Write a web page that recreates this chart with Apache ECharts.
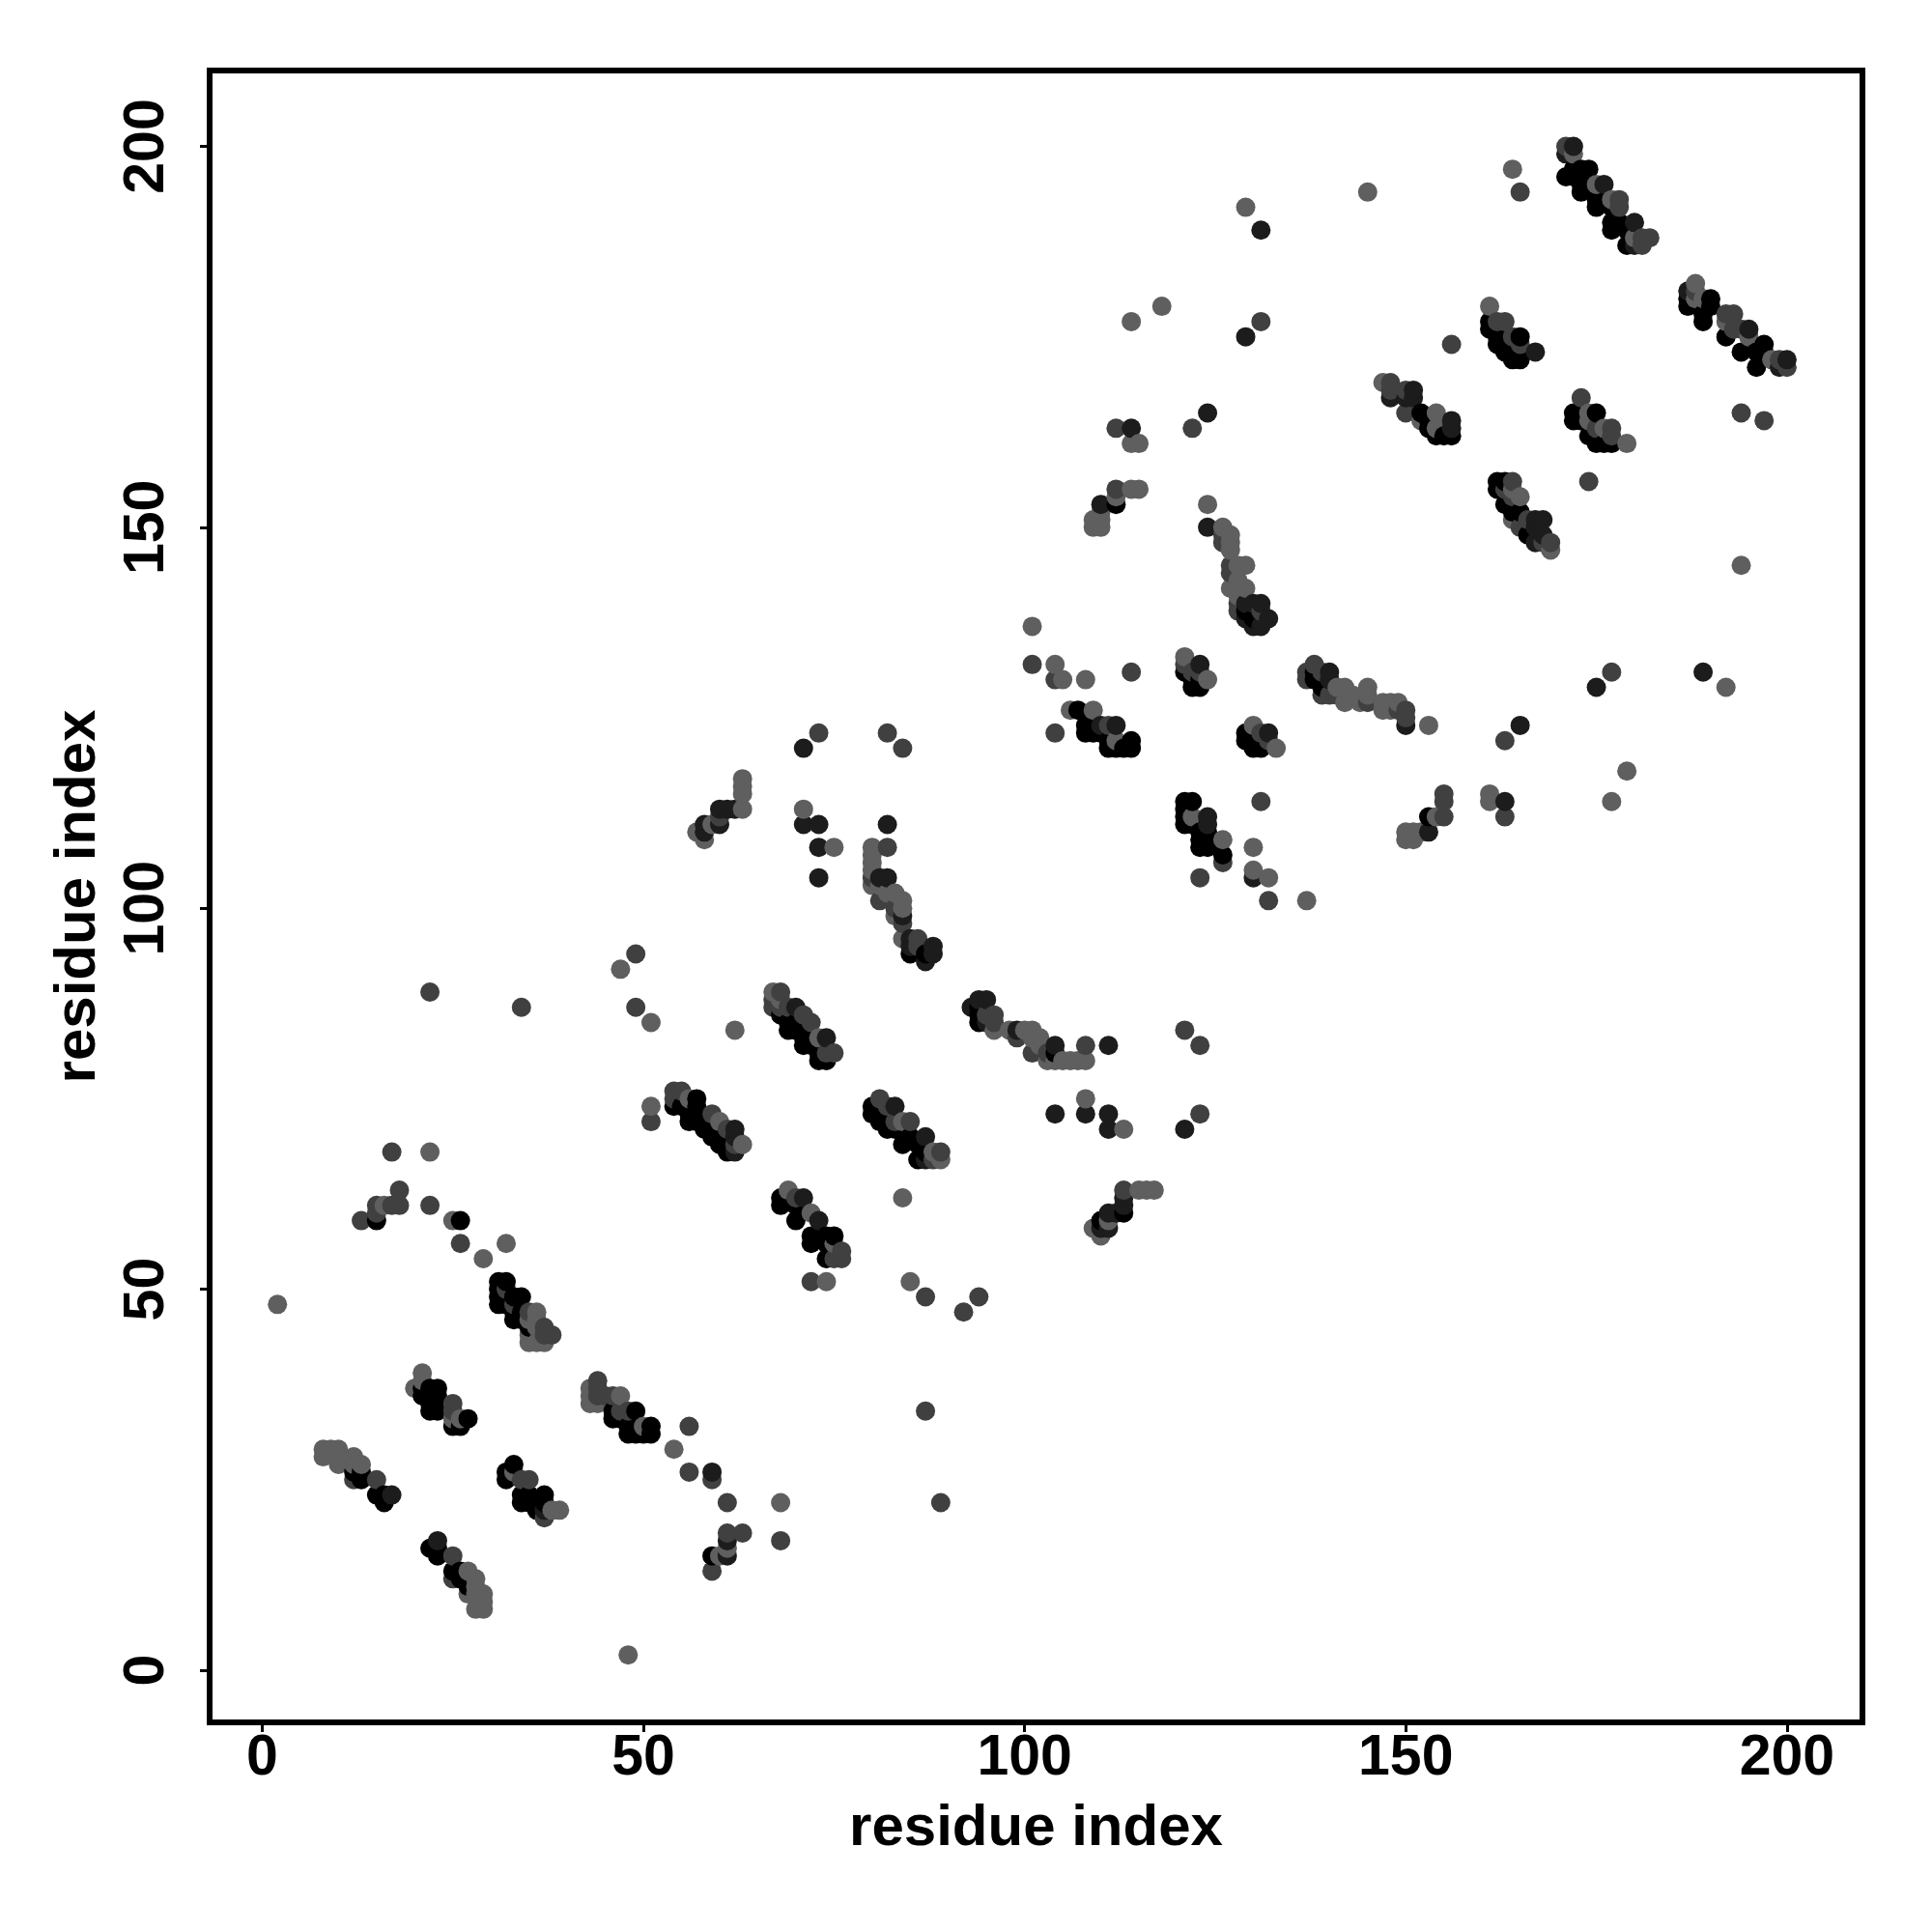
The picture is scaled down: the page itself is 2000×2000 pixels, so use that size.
<!DOCTYPE html>
<html><head><meta charset="utf-8">
<style>html,body{margin:0;padding:0;background:#fff}#c{width:2000px;height:2000px}</style>
<script src="https://cdn.jsdelivr.net/npm/echarts@6/dist/echarts.min.js"></script>
</head><body><div id="c"></div>
<script>
const tickValues=[0,50,100,150,200];
const axisName="residue index";
const shades={light:"#5f5f5f",mid:"#404040",dark:"#1c1c1c",black:"#000000"};
const lightPoints=[[2,48],[16,61],[25,59],[29,54],[32,56],[21,39],[21,38],[20,37],[25,33],[26,33],[8,29],[8,28],[9,29],[10,29],[10,27],[12,28],[12,27],[13,27],[33,26],[36,47],[35,46],[36,46],[36,45],[35,44],[35,43],[36,43],[37,43],[38,21],[39,21],[27,13],[28,12],[27,10],[28,11],[28,10],[29,10],[29,9],[28,8],[29,8],[43,37],[43,36],[43,35],[44,35],[47,36],[50,32],[54,29],[60,15],[61,16],[68,22],[48,2],[47,92],[51,85],[62,84],[51,74],[22,68],[63,117],[63,116],[63,115],[63,113],[57,110],[59,111],[58,109],[67,89],[68,88],[73,83],[56,75],[60,72],[63,69],[69,63],[72,60],[75,56],[85,51],[74,51],[71,113],[75,108],[80,108],[80,107],[80,106],[80,105],[80,103],[81,103],[82,102],[83,102],[84,101],[84,100],[83,99],[84,96],[96,84],[98,84],[100,84],[101,84],[101,83],[102,83],[102,82],[103,80],[104,80],[105,80],[106,80],[107,80],[108,80],[84,72],[88,68],[89,67],[84,62],[108,75],[113,71],[115,63],[116,63],[117,63],[109,58],[110,57],[111,59],[121,133],[122,112],[124,130],[130,124],[133,121],[141,129],[142,129],[142,127],[143,128],[144,127],[145,129],[145,128],[147,127],[148,127],[149,127],[147,126],[148,126],[153,124],[179,118],[177,114],[161,115],[161,114],[150,110],[151,110],[152,110],[150,109],[151,109],[154,112],[126,109],[130,108],[130,105],[132,104],[137,101],[114,161],[115,161],[112,154],[114,155],[115,155],[110,152],[109,151],[109,150],[110,151],[110,150],[124,153],[126,150],[127,149],[127,148],[127,147],[128,145],[129,145],[127,142],[128,143],[129,142],[128,142],[128,141],[101,137],[104,132],[105,130],[108,130],[106,126],[109,126],[112,122],[145,194],[164,197],[172,199],[175,195],[177,193],[180,188],[188,182],[188,180],[189,180],[192,177],[195,175],[198,172],[161,179],[165,154],[164,155],[164,151],[169,147],[147,169],[154,165],[152,164],[154,163],[176,163],[174,165],[174,164],[179,161],[194,145],[129,192],[114,177],[118,179],[192,129]];
const midPoints=[[13,59],[15,60],[17,61],[18,61],[18,63],[22,61],[26,56],[17,68],[15,61],[25,35],[25,34],[12,25],[15,25],[32,50],[33,48],[35,47],[37,44],[38,44],[37,45],[34,25],[35,25],[37,20],[25,15],[25,12],[44,38],[44,37],[44,36],[45,36],[46,36],[48,34],[47,34],[56,32],[56,26],[59,25],[61,22],[68,17],[61,18],[63,18],[59,13],[22,89],[34,87],[49,94],[49,87],[51,72],[60,112],[68,89],[67,88],[67,87],[69,87],[68,87],[71,86],[72,85],[75,81],[74,81],[54,76],[55,76],[54,75],[59,73],[61,71],[62,69],[70,62],[76,54],[75,54],[76,55],[72,51],[87,49],[73,123],[82,123],[84,121],[82,108],[80,104],[81,101],[83,100],[84,98],[86,96],[86,95],[96,86],[95,86],[96,85],[99,83],[101,81],[103,81],[108,82],[121,84],[123,82],[81,75],[82,74],[83,72],[85,72],[89,68],[88,67],[113,63],[123,73],[121,132],[122,131],[123,131],[131,123],[132,122],[138,132],[137,131],[137,130],[139,131],[139,128],[140,128],[141,128],[145,127],[149,126],[150,126],[150,125],[155,115],[155,114],[155,112],[163,112],[163,122],[126,106],[123,104],[132,101],[131,114],[112,163],[112,155],[122,163],[126,149],[126,148],[127,145],[127,144],[128,140],[128,139],[131,139],[101,132],[104,130],[114,131],[104,123],[111,124],[165,194],[178,193],[178,192],[188,181],[192,178],[193,178],[193,176],[194,176],[199,172],[200,171],[162,177],[163,177],[164,175],[165,174],[156,174],[148,169],[148,168],[150,168],[150,165],[175,163],[177,163],[177,162],[164,156],[163,155],[164,154],[165,150],[166,151],[168,148],[169,148],[174,156],[194,165],[197,164],[131,177],[171,200],[181,188],[182,188],[181,187],[173,167],[177,131],[92,47],[94,49],[87,34],[89,22]];
const darkPoints=[[17,23],[37,21],[61,17],[61,15],[59,26],[23,17],[62,113],[60,113],[61,113],[60,111],[58,111],[58,110],[70,87],[74,83],[71,121],[71,111],[73,111],[73,108],[73,104],[82,111],[81,104],[82,104],[84,99],[85,96],[85,95],[88,95],[88,94],[87,93],[93,87],[94,88],[95,88],[95,85],[99,84],[104,82],[111,82],[62,71],[62,70],[62,68],[71,62],[73,59],[83,74],[87,70],[87,67],[104,73],[108,73],[111,73],[111,71],[121,71],[113,62],[113,61],[111,60],[112,60],[110,58],[111,58],[123,132],[132,123],[140,131],[140,130],[150,124],[175,129],[165,124],[163,114],[153,110],[124,112],[124,111],[130,104],[114,163],[110,153],[124,165],[124,150],[129,140],[130,140],[131,140],[132,138],[130,137],[131,137],[129,138],[110,124],[112,124],[172,200],[171,199],[176,195],[180,190],[180,187],[187,181],[195,176],[200,172],[199,171],[167,173],[151,168],[151,167],[150,167],[148,167],[156,164],[156,163],[167,151],[168,151],[167,150],[167,148],[168,149],[131,189],[129,175],[189,131]];
const blackPoints=[[15,59],[26,59],[31,51],[32,51],[31,50],[31,49],[31,48],[32,48],[33,49],[32,49],[34,49],[33,47],[34,47],[33,46],[34,46],[35,45],[21,37],[22,37],[23,37],[21,36],[22,36],[23,36],[22,35],[23,35],[22,34],[23,34],[27,33],[25,32],[26,32],[12,26],[13,26],[13,25],[15,23],[16,23],[16,22],[33,27],[32,26],[32,25],[34,23],[35,23],[34,22],[35,22],[36,22],[37,23],[37,22],[36,21],[22,16],[23,16],[23,15],[25,13],[26,13],[26,12],[27,11],[46,34],[46,33],[47,33],[49,34],[48,32],[48,31],[49,31],[51,32],[50,31],[51,31],[59,15],[68,86],[69,85],[69,84],[70,85],[70,84],[71,83],[71,82],[72,83],[72,82],[73,81],[73,80],[74,80],[54,74],[55,74],[57,75],[57,74],[56,73],[56,72],[57,73],[57,72],[58,71],[59,71],[59,70],[60,69],[61,69],[61,68],[68,62],[68,61],[70,61],[70,59],[72,57],[74,57],[75,57],[72,56],[74,56],[74,54],[85,94],[87,94],[94,87],[94,86],[94,85],[104,81],[80,74],[80,73],[81,73],[81,72],[82,71],[83,71],[84,69],[85,70],[86,69],[86,67],[87,68],[113,60],[110,59],[121,131],[122,130],[123,130],[122,129],[123,129],[129,123],[129,122],[130,122],[130,121],[131,121],[138,131],[138,130],[139,129],[121,114],[122,114],[121,113],[121,112],[121,111],[122,111],[123,110],[124,110],[123,109],[124,109],[123,108],[124,108],[126,107],[153,112],[112,153],[129,139],[130,138],[107,126],[108,124],[109,124],[108,123],[109,123],[110,123],[111,122],[111,121],[112,121],[113,121],[114,122],[114,121],[171,196],[172,197],[173,197],[174,197],[172,196],[173,196],[173,195],[173,194],[175,193],[175,192],[177,192],[177,190],[178,190],[177,189],[179,189],[179,187],[187,180],[187,179],[190,180],[190,179],[189,178],[189,177],[192,175],[194,173],[197,174],[197,173],[196,173],[196,171],[161,177],[161,176],[162,175],[165,175],[162,174],[163,173],[164,172],[165,172],[152,165],[153,164],[153,163],[155,162],[156,162],[154,162],[172,165],[172,164],[175,165],[173,164],[174,162],[175,161],[176,161],[177,161],[162,156],[163,156],[162,155],[163,153],[164,152],[165,152],[166,149]];

const layers=[[lightPoints,shades.light],[midPoints,shades.mid],[darkPoints,shades.dark],[blackPoints,shades.black]];
const pts=[];
layers.forEach(([arr,col])=>arr.forEach(p=>pts.push({value:p,itemStyle:{color:col}})));
pts.sort((a,b)=>a.value[0]-b.value[0]||a.value[1]-b.value[1]);

const labelFont={fontFamily:'"Liberation Sans"',fontWeight:'bold',fontSize:59,color:'#000'};
function axis(rot,margin,nameGap){return {
  type:'value',min:-6.9,max:209.9,name:axisName,nameLocation:'middle',nameGap:nameGap,
  nameTextStyle:{fontFamily:'"Liberation Sans"',fontWeight:'bold',fontSize:60,color:'#000'},
  splitLine:{show:false},
  axisLine:{show:false,onZero:false},
  axisTick:{show:true,length:10,inside:false,lineStyle:{color:'#000',width:3},customValues:tickValues},
  axisLabel:Object.assign({rotate:rot,margin:margin,customValues:tickValues,hideOverlap:false},labelFont)
};}
const chart=echarts.init(document.getElementById('c'),null,{renderer:'canvas',width:2000,height:2000});
chart.setOption({
  animation:false,backgroundColor:'#fff',
  grid:{left:217,top:73,width:1711,height:1710,show:true,borderColor:'#000',borderWidth:6,backgroundColor:'transparent',containLabel:false},
  xAxis:axis(0,8,80),
  yAxis:Object.assign(axis(90,35,106),{min:-6.85,max:209.95}),
  series:[{type:'scatter',symbol:'circle',symbolSize:20,data:pts,large:false,itemStyle:{opacity:1},emphasis:{disabled:true},clip:true}]
});
</script></body></html>
